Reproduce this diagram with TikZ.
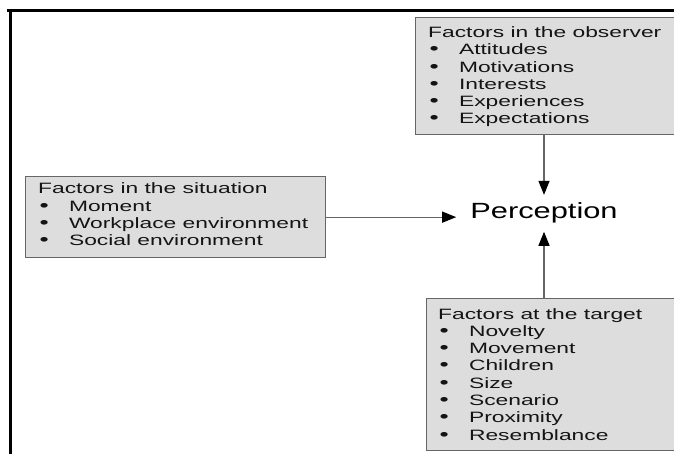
\documentclass[tikz,border=0pt]{standalone}
\usepackage{fontspec}
\setmainfont{Liberation Sans}
\usetikzlibrary{arrows.meta}
\definecolor{boxfill}{HTML}{DDDDDD}
\definecolor{boxline}{HTML}{666666}
\newcommand{\bitem}[1]{\makebox[20.3pt][l]{\hspace{1.0pt}\scalebox{1.15}{\textbullet}}#1}
\newcommand{\boxlines}[1]{\scalebox{1.52}[1]{\fontsize{15}{17.3}\selectfont\renewcommand{\arraystretch}{1}\begin{tabular}[t]{@{}l@{}}#1\end{tabular}}}
\begin{document}
\begin{tikzpicture}[x=1pt,y=-1pt,
  fbox/.style={draw=boxline, fill=boxfill, line width=1.3pt, inner sep=0, anchor=north west},
  txt/.style={anchor=base west, inner sep=0, text=black!92},
  conn/.style={draw=boxline, line width=1.2pt, -{Triangle[length=14pt,width=11pt,color=black]}}]
\useasboundingbox (0,0) rectangle (674,454);
\clip (0,0) rectangle (674,454);
\fill[white] (0,0) rectangle (674,454);
% frame lines
\draw[line width=3pt] (7,10.5) -- (674,10.5);
\draw[line width=3pt] (10.5,9) -- (10.5,454);
% boxes
\node[fbox, minimum width=265pt, minimum height=117pt] (obs) at (415,17) {};
\node[fbox, minimum width=300pt, minimum height=81pt] (sit) at (25,176) {};
\node[fbox, minimum width=254pt, minimum height=152pt] (tgt) at (426,298) {};
% texts
\node[txt] (obstxt) at (428,37.5) {\boxlines{Factors in the observer\\ \bitem{Attitudes}\\ \bitem{Motivations}\\ \bitem{Interests}\\ \bitem{Experiences}\\ \bitem{Expectations}}};
\node[txt] (sittxt) at (38,194) {\boxlines{Factors in the situation\\ \bitem{Moment}\\ \bitem{Workplace environment}\\ \bitem{Social environment}}};
\node[txt] (tgttxt) at (438,319) {\boxlines{Factors at the target\\ \bitem{Novelty}\\ \bitem{Movement}\\ \bitem{Children}\\ \bitem{Size}\\ \bitem{Scenario}\\ \bitem{Proximity}\\ \bitem{Resemblance}}};
% perception
\node[anchor=base, inner xsep=14pt, inner ysep=8pt] (perc) at (544,219) {\scalebox{1.4}[1]{\fontsize{22}{26}\selectfont Perception}};
% connectors
\draw[conn] (obs.south -| perc) -- (perc.north);
\draw[conn] (tgt.north -| perc) -- (perc.south);
\draw[conn] (sit.east) -- (sit.east -| perc.west);
\end{tikzpicture}
\end{document}
